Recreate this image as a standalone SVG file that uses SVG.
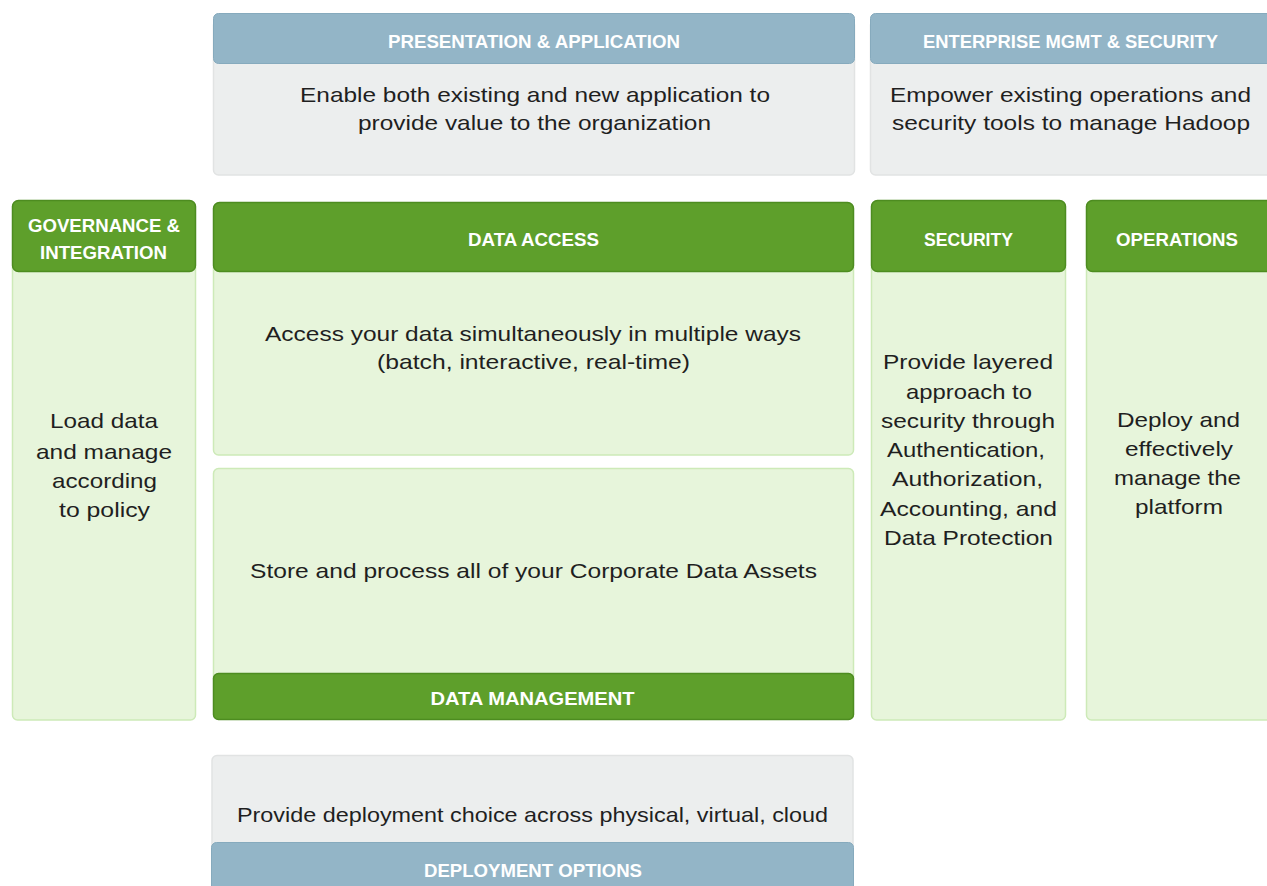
<svg xmlns="http://www.w3.org/2000/svg" width="1267" height="886" viewBox="0 0 1267 886">
<style>
.bh{fill:#93b5c7;stroke:#86aabd;stroke-width:1}
.gb{fill:#eceeee;stroke:#e1e3e3;stroke-width:1.5}
.gh{fill:#5e9f2b;stroke:#4d8c20;stroke-width:1.5}
.lb{fill:#e7f5db;stroke:#cdeab8;stroke-width:1.5}
.ht{font-family:"Liberation Sans",Arial,sans-serif;font-weight:bold;font-size:18px;fill:#ffffff;text-anchor:middle}
.tx{font-family:"Liberation Sans",Arial,sans-serif;font-size:21px;fill:#1f1f1f;text-anchor:middle}
</style>
<rect width="1267" height="886" fill="#ffffff"/>
<g id="presentation">
<rect class="gb" x="213.5" y="20" width="641" height="155" rx="5"/>
<rect class="bh" x="213.5" y="13.5" width="641" height="50" rx="5"/>
<text class="ht" x="534" y="47.5" textLength="292" lengthAdjust="spacingAndGlyphs">PRESENTATION &amp; APPLICATION</text>
<text class="tx" x="535" y="102" textLength="470" lengthAdjust="spacingAndGlyphs">Enable both existing and new application to</text>
<text class="tx" x="534.5" y="130" textLength="353" lengthAdjust="spacingAndGlyphs">provide value to the organization</text>
</g>
<g id="enterprise">
<rect class="gb" x="870.5" y="20" width="405" height="155" rx="5"/>
<rect class="bh" x="870.5" y="13.5" width="405" height="50" rx="5"/>
<text class="ht" x="1070.5" y="47.5" textLength="295" lengthAdjust="spacingAndGlyphs">ENTERPRISE MGMT &amp; SECURITY</text>
<text class="tx" x="1070.5" y="102" textLength="361" lengthAdjust="spacingAndGlyphs">Empower existing operations and</text>
<text class="tx" x="1071" y="130" textLength="358" lengthAdjust="spacingAndGlyphs">security tools to manage Hadoop</text>
</g>
<g id="governance">
<rect class="lb" x="12.5" y="262" width="183" height="458" rx="5"/>
<rect class="gh" x="12.5" y="200.5" width="183" height="71" rx="6"/>
<text class="ht" x="104" y="231.5" textLength="152" lengthAdjust="spacingAndGlyphs">GOVERNANCE &amp;</text>
<text class="ht" x="103.5" y="258.5" textLength="127" lengthAdjust="spacingAndGlyphs">INTEGRATION</text>
<text class="tx" x="104" y="428" textLength="108" lengthAdjust="spacingAndGlyphs">Load data</text>
<text class="tx" x="104" y="459" textLength="136" lengthAdjust="spacingAndGlyphs">and manage</text>
<text class="tx" x="104.5" y="488" textLength="105" lengthAdjust="spacingAndGlyphs">according</text>
<text class="tx" x="104.5" y="517" textLength="91" lengthAdjust="spacingAndGlyphs">to policy</text>
</g>
<g id="data-access">
<rect class="lb" x="213.5" y="262" width="640" height="193" rx="5"/>
<rect class="gh" x="213.5" y="202.5" width="640" height="69" rx="6"/>
<text class="ht" x="533.5" y="245.5" textLength="131" lengthAdjust="spacingAndGlyphs">DATA ACCESS</text>
<text class="tx" x="533" y="341" textLength="536" lengthAdjust="spacingAndGlyphs">Access your data simultaneously in multiple ways</text>
<text class="tx" x="533.5" y="369" textLength="313" lengthAdjust="spacingAndGlyphs">(batch, interactive, real-time)</text>
</g>
<g id="data-management">
<rect class="lb" x="213.5" y="468.5" width="640" height="215" rx="5"/>
<rect class="gh" x="213.5" y="673.5" width="640" height="46" rx="5"/>
<text class="ht" x="532.5" y="704.5" textLength="204" lengthAdjust="spacingAndGlyphs">DATA MANAGEMENT</text>
<text class="tx" x="533.5" y="578" textLength="567" lengthAdjust="spacingAndGlyphs">Store and process all of your Corporate Data Assets</text>
</g>
<g id="security">
<rect class="lb" x="871.5" y="262" width="194" height="458" rx="5"/>
<rect class="gh" x="871.5" y="200.5" width="194" height="71" rx="6"/>
<text class="ht" x="968.5" y="245.5" textLength="89" lengthAdjust="spacingAndGlyphs">SECURITY</text>
<text class="tx" x="968" y="369" textLength="170" lengthAdjust="spacingAndGlyphs">Provide layered</text>
<text class="tx" x="969" y="399" textLength="126" lengthAdjust="spacingAndGlyphs">approach to</text>
<text class="tx" x="968" y="428" textLength="174" lengthAdjust="spacingAndGlyphs">security through</text>
<text class="tx" x="966" y="457" textLength="158" lengthAdjust="spacingAndGlyphs">Authentication,</text>
<text class="tx" x="967.5" y="486" textLength="151" lengthAdjust="spacingAndGlyphs">Authorization,</text>
<text class="tx" x="968.5" y="516" textLength="177" lengthAdjust="spacingAndGlyphs">Accounting, and</text>
<text class="tx" x="968.5" y="545" textLength="169" lengthAdjust="spacingAndGlyphs">Data Protection</text>
</g>
<g id="operations">
<rect class="lb" x="1086.5" y="262" width="190" height="458" rx="5"/>
<rect class="gh" x="1086.5" y="200.5" width="190" height="71" rx="6"/>
<text class="ht" x="1177" y="245.5" textLength="122" lengthAdjust="spacingAndGlyphs">OPERATIONS</text>
<text class="tx" x="1178.5" y="427" textLength="123" lengthAdjust="spacingAndGlyphs">Deploy and</text>
<text class="tx" x="1179" y="456" textLength="108" lengthAdjust="spacingAndGlyphs">effectively</text>
<text class="tx" x="1177.5" y="485" textLength="127" lengthAdjust="spacingAndGlyphs">manage the</text>
<text class="tx" x="1179" y="514" textLength="88" lengthAdjust="spacingAndGlyphs">platform</text>
</g>
<g id="deployment">
<rect class="gb" x="212" y="755.5" width="641" height="100" rx="5"/>
<rect class="bh" x="211.5" y="842.5" width="642" height="60" rx="5"/>
<text class="ht" x="533" y="876.5" textLength="218" lengthAdjust="spacingAndGlyphs">DEPLOYMENT OPTIONS</text>
<text class="tx" x="532.5" y="822" textLength="591" lengthAdjust="spacingAndGlyphs">Provide deployment choice across physical, virtual, cloud</text>
</g>
<g id="connectors"/>
</svg>
